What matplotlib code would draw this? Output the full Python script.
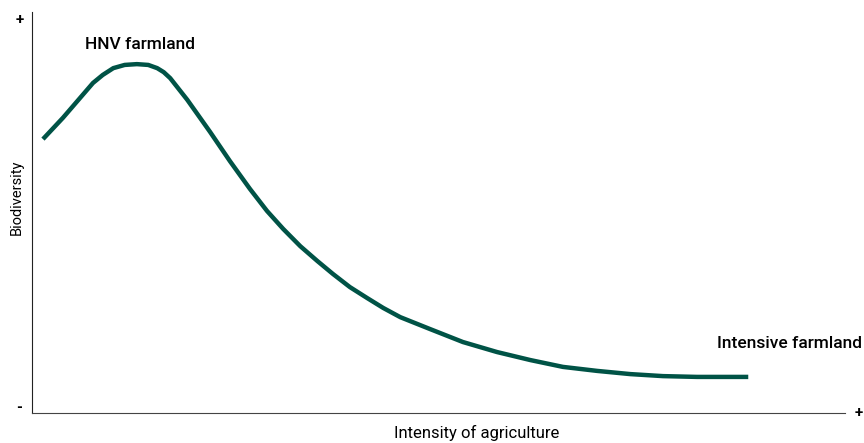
import matplotlib
matplotlib.use('Agg')
import matplotlib.pyplot as plt

plt.rcParams['font.family'] = ['Roboto', 'DejaVu Sans']

# curve (fractions of the axis)
intensity = [0.0135, 0.038, 0.075, 0.087, 0.100, 0.114, 0.129, 0.143, 0.154,
             0.162, 0.170, 0.191, 0.219, 0.2435, 0.268, 0.289, 0.309, 0.330,
             0.351, 0.370, 0.391, 0.412, 0.432, 0.453, 0.490, 0.530, 0.572,
             0.613, 0.653, 0.695, 0.736, 0.776, 0.818, 0.881]
biodiversity = [0.683, 0.736, 0.823, 0.843, 0.860, 0.868, 0.870, 0.868, 0.860,
                0.850, 0.835, 0.781, 0.701, 0.628, 0.559, 0.504, 0.459, 0.416,
                0.379, 0.347, 0.314, 0.287, 0.262, 0.239, 0.209, 0.177, 0.152,
                0.132, 0.115, 0.105, 0.097, 0.092, 0.090, 0.090]

fig = plt.figure(figsize=(8.64, 4.43), dpi=100)
ax = fig.add_axes([32 / 864, 30 / 443, 813 / 864, 401 / 443])

ax.plot(intensity, biodiversity, color='#005346', lw=3.2,
        solid_capstyle='butt', solid_joinstyle='round')

ax.set_xlim(0, 1)
ax.set_ylim(0, 1)
ax.set_xticks([])
ax.set_yticks([])
for s in ['top', 'right']:
    ax.spines[s].set_visible(False)
ax.spines['left'].set_color('#222222')
ax.spines['bottom'].set_color('#444444')

# labels
ax.text(0.133, 0.918, 'HNV farmland', ha='center', va='center',
        fontsize=12.5, fontweight='medium')
ax.text(1.021, 0.174, 'Intensive farmland', ha='right', va='center',
        fontsize=12.5, fontweight='medium')
fig.text(477 / 864, 1 - 433 / 443, 'Intensity of agriculture', ha='center',
         va='center', fontsize=12)
fig.text(17 / 864, 1 - 197 / 443, 'Biodiversity', ha='center', va='center',
         rotation=90, fontsize=10.5)

# + / - markers at axis ends
ax.text(-0.015, 0.98, '+', ha='center', va='center', fontsize=11, fontweight='bold')
ax.text(-0.016, 0.012, '-', ha='center', va='center', fontsize=11, fontweight='bold')
ax.text(1.017, 0.0, '+', ha='center', va='center', fontsize=11, fontweight='bold',
        clip_on=False)

fig.savefig('out.png', dpi=100)
